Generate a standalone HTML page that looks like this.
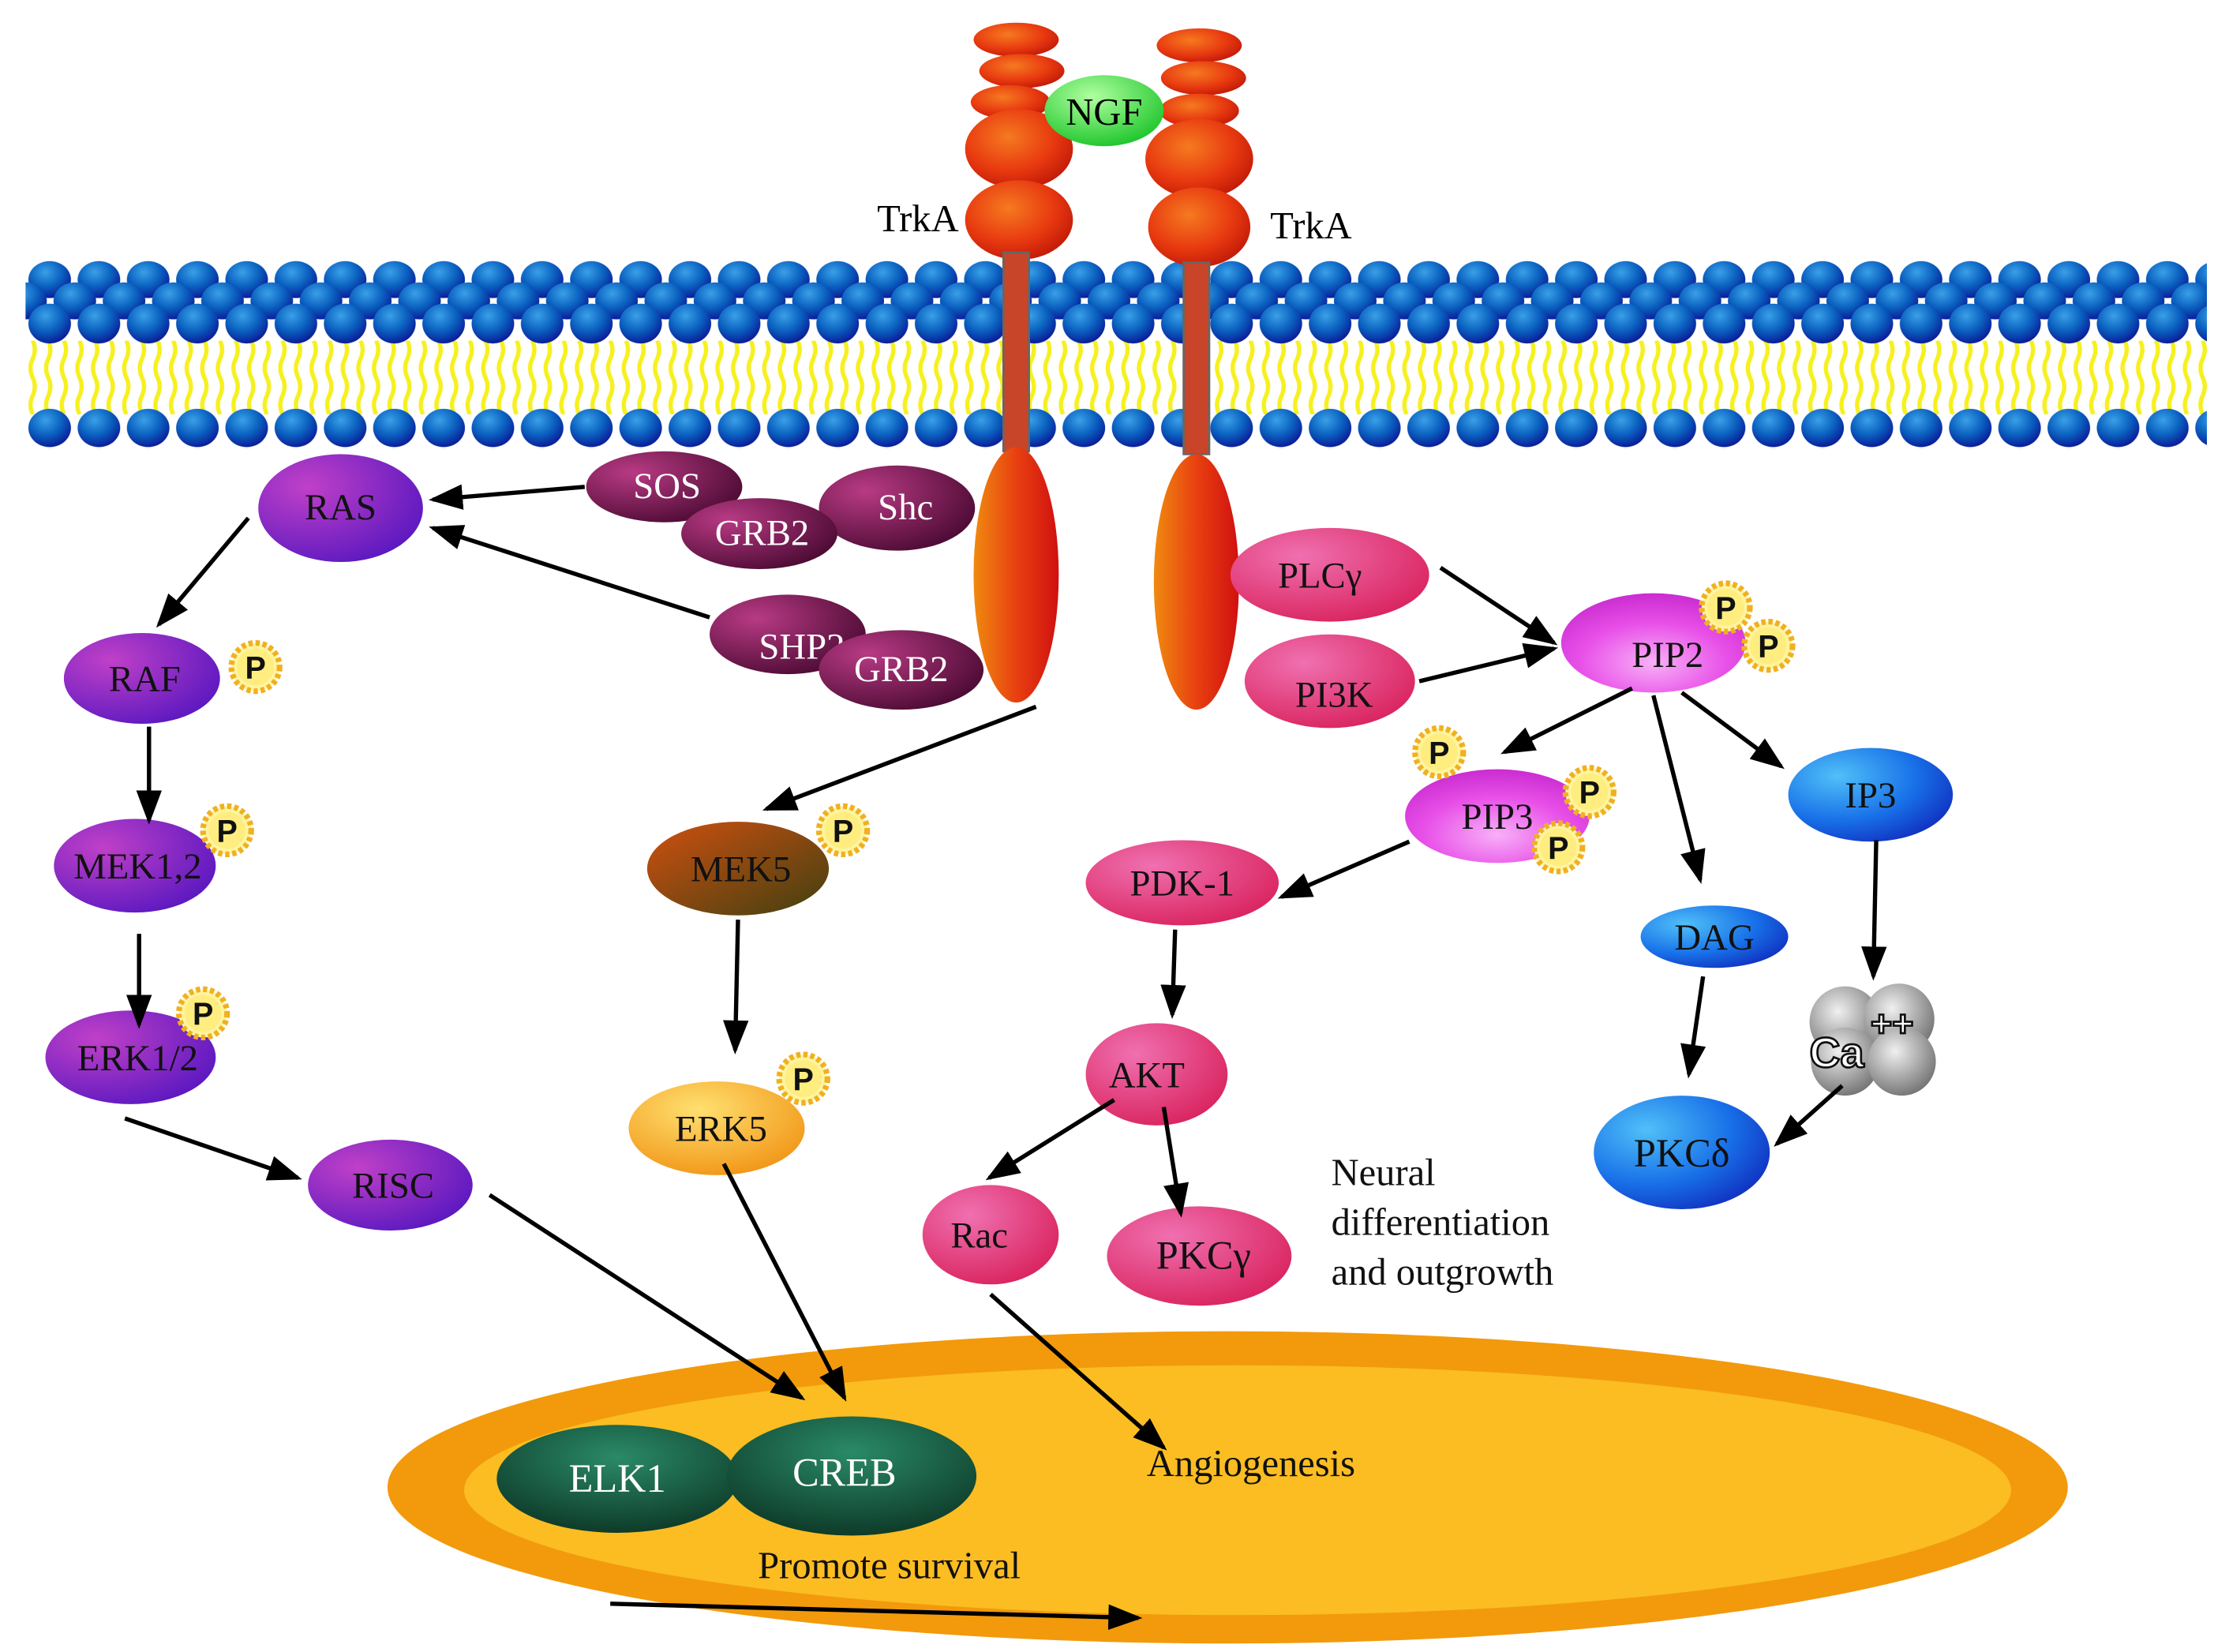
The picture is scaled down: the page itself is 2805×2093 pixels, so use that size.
<!DOCTYPE html>
<html><head><meta charset="utf-8"><style>html,body{margin:0;padding:0;background:#fff;}svg{display:block}</style></head>
<body>
<svg width="2805" height="2093" viewBox="0 0 1560 1164" preserveAspectRatio="none" xmlns="http://www.w3.org/2000/svg" font-family="'Liberation Serif', serif">
<defs>
<radialGradient id="sph" cx="0.4" cy="0.3" r="0.7"><stop offset="0" stop-color="#3aa0e8"/><stop offset="0.55" stop-color="#0b62c0"/><stop offset="1" stop-color="#0a1f9a"/></radialGradient>
<pattern id="topP" x="18" y="183" width="34.7" height="60" patternUnits="userSpaceOnUse">
<ellipse cx="17" cy="14" rx="15" ry="13" fill="url(#sph)"/><ellipse cx="0" cy="29" rx="15" ry="13" fill="url(#sph)"/><ellipse cx="34.7" cy="29" rx="15" ry="13" fill="url(#sph)"/><ellipse cx="17" cy="45" rx="15" ry="14" fill="url(#sph)"/></pattern>
<pattern id="botP" x="18" y="288" width="34.7" height="28" patternUnits="userSpaceOnUse"><ellipse cx="17" cy="13.5" rx="15" ry="13.5" fill="url(#sph)"/></pattern>
<pattern id="yel" x="18" y="240" width="11" height="52" patternUnits="userSpaceOnUse"><path d="M5 0 q3 6 0 13 q-3 6 0 13 q3 6 0 13 q-3 6 0 13" stroke="#f6f020" stroke-width="3" fill="none"/></pattern>
<radialGradient id="red" cx="0.4" cy="0.35" r="0.7"><stop offset="0" stop-color="#f57a20"/><stop offset="0.6" stop-color="#e83a10"/><stop offset="1" stop-color="#c01808"/></radialGradient>
<linearGradient id="stalk" x1="0" y1="0" x2="1" y2="0"><stop offset="0" stop-color="#f08a10"/><stop offset="0.5" stop-color="#e84010"/><stop offset="1" stop-color="#d01010"/></linearGradient>
<radialGradient id="purp" cx="0.3" cy="0.3" r="0.8"><stop offset="0" stop-color="#c040c8"/><stop offset="1" stop-color="#5a18c0"/></radialGradient>
<radialGradient id="maroon" cx="0.3" cy="0.3" r="0.8"><stop offset="0" stop-color="#b83a84"/><stop offset="1" stop-color="#4a0a32"/></radialGradient>
<linearGradient id="mek5" x1="0" y1="0" x2="1" y2="1"><stop offset="0" stop-color="#d05010"/><stop offset="1" stop-color="#404010"/></linearGradient>
<radialGradient id="erk5" cx="0.4" cy="0.3" r="0.8"><stop offset="0" stop-color="#ffe070"/><stop offset="1" stop-color="#f09010"/></radialGradient>
<radialGradient id="pink" cx="0.35" cy="0.3" r="0.8"><stop offset="0" stop-color="#f070b0"/><stop offset="1" stop-color="#d8205a"/></radialGradient>
<radialGradient id="mag" cx="0.5" cy="0.7" r="0.8"><stop offset="0" stop-color="#f8b0f8"/><stop offset="0.5" stop-color="#e850e8"/><stop offset="1" stop-color="#c020c8"/></radialGradient>
<radialGradient id="blue" cx="0.3" cy="0.3" r="0.8"><stop offset="0" stop-color="#50c0f8"/><stop offset="0.6" stop-color="#1870e8"/><stop offset="1" stop-color="#1030c0"/></radialGradient>
<radialGradient id="green" cx="0.5" cy="0.3" r="0.8"><stop offset="0" stop-color="#2a8a68"/><stop offset="1" stop-color="#0a3020"/></radialGradient>
<radialGradient id="ngf" cx="0.4" cy="0.3" r="0.8"><stop offset="0" stop-color="#b0ffa0"/><stop offset="1" stop-color="#10c020"/></radialGradient>
<radialGradient id="grey" cx="0.4" cy="0.35" r="0.7"><stop offset="0" stop-color="#f0f0f0"/><stop offset="1" stop-color="#707070"/></radialGradient>
<marker id="ar" markerWidth="8" markerHeight="8" refX="7" refY="4" orient="auto" markerUnits="strokeWidth"><path d="M0,1 L8,4 L0,7 Z" fill="#000"/></marker>
<g id="P"><circle r="17" fill="#fff4a0" stroke="#f0b020" stroke-width="4" stroke-dasharray="3 2"/><circle r="13" fill="#ffed80"/><text y="8" text-anchor="middle" font-family="'Liberation Sans',sans-serif" font-weight="bold" font-size="22" fill="#111">P</text></g>
</defs>

<rect x="18" y="240" width="1537" height="52" fill="url(#yel)"/>
<rect x="18" y="183" width="1537" height="60" fill="url(#topP)"/>
<rect x="18" y="288" width="1537" height="28" fill="url(#botP)"/>

<ellipse cx="865" cy="1048" rx="592" ry="110" fill="#f29a0c"/>
<ellipse cx="872" cy="1050" rx="545" ry="88" fill="#fbbd22"/>

<g fill="url(#red)">
<ellipse cx="716" cy="28" rx="30" ry="12"/><ellipse cx="720" cy="50" rx="30" ry="12"/><ellipse cx="712" cy="72" rx="28" ry="12"/>
<ellipse cx="718" cy="105" rx="38" ry="28"/><ellipse cx="718" cy="155" rx="38" ry="28"/>
<ellipse cx="845" cy="32" rx="30" ry="12"/><ellipse cx="848" cy="55" rx="30" ry="12"/><ellipse cx="845" cy="78" rx="28" ry="12"/>
<ellipse cx="845" cy="112" rx="38" ry="28"/><ellipse cx="845" cy="160" rx="36" ry="28"/>
</g>
<rect x="707" y="178" width="18" height="140" fill="#c8452a" stroke="#666" stroke-width="1.5"/>
<rect x="834" y="185" width="18" height="135" fill="#c8452a" stroke="#666" stroke-width="1.5"/>
<ellipse cx="716" cy="405" rx="30" ry="90" fill="url(#stalk)"/>
<ellipse cx="843" cy="410" rx="30" ry="90" fill="url(#stalk)"/>
<ellipse cx="778" cy="78" rx="42" ry="25" fill="url(#ngf)"/>
<text x="778" y="88" text-anchor="middle" font-size="27">NGF</text>
<text x="618" y="163" font-size="27">TrkA</text>
<text x="895" y="168" font-size="27">TrkA</text>

<g font-size="26" text-anchor="middle" fill="#111">
<ellipse cx="240" cy="358" rx="58" ry="38" fill="url(#purp)"/><text x="240" y="366">RAS</text>
<ellipse cx="468" cy="343" rx="55" ry="25" fill="url(#maroon)"/><text x="470" y="351" fill="#fff">SOS</text>
<ellipse cx="632" cy="358" rx="55" ry="30" fill="url(#maroon)"/><text x="638" y="366" fill="#fff">Shc</text>
<ellipse cx="535" cy="376" rx="55" ry="25" fill="url(#maroon)"/><text x="537" y="384" fill="#fff">GRB2</text>
<ellipse cx="555" cy="447" rx="55" ry="28" fill="url(#maroon)"/><text x="565" y="464" fill="#fff">SHP2</text>
<ellipse cx="635" cy="472" rx="58" ry="28" fill="url(#maroon)"/><text x="635" y="480" fill="#fff">GRB2</text>
<ellipse cx="100" cy="478" rx="55" ry="32" fill="url(#purp)"/><text x="102" y="487">RAF</text>
<ellipse cx="95" cy="610" rx="57" ry="33" fill="url(#purp)"/><text x="97" y="619">MEK1,2</text>
<ellipse cx="92" cy="745" rx="60" ry="33" fill="url(#purp)"/><text x="97" y="754">ERK1/2</text>
<ellipse cx="275" cy="835" rx="58" ry="32" fill="url(#purp)"/><text x="277" y="844">RISC</text>
<ellipse cx="520" cy="612" rx="64" ry="33" fill="url(#mek5)"/><text x="522" y="621">MEK5</text>
<ellipse cx="505" cy="795" rx="62" ry="33" fill="url(#erk5)"/><text x="508" y="804">ERK5</text>
<ellipse cx="937" cy="405" rx="70" ry="33" fill="url(#pink)"/><text x="930" y="414">PLCγ</text>
<ellipse cx="937" cy="480" rx="60" ry="33" fill="url(#pink)"/><text x="940" y="498">PI3K</text>
<ellipse cx="1165" cy="453" rx="65" ry="35" fill="url(#mag)"/><text x="1175" y="470">PIP2</text>
<ellipse cx="1055" cy="575" rx="65" ry="33" fill="url(#mag)"/><text x="1055" y="584">PIP3</text>
<ellipse cx="1318" cy="560" rx="58" ry="33" fill="url(#blue)"/><text x="1318" y="569">IP3</text>
<ellipse cx="833" cy="622" rx="68" ry="30" fill="url(#pink)"/><text x="833" y="631">PDK-1</text>
<ellipse cx="1208" cy="660" rx="52" ry="22" fill="url(#blue)"/><text x="1208" y="669">DAG</text>
<ellipse cx="815" cy="757" rx="50" ry="36" fill="url(#pink)"/><text x="808" y="766">AKT</text>
<ellipse cx="1185" cy="812" rx="62" ry="40" fill="url(#blue)"/><text x="1185" y="822" font-size="28">PKCδ</text>
<ellipse cx="698" cy="870" rx="48" ry="35" fill="url(#pink)"/><text x="690" y="879">Rac</text>
<ellipse cx="845" cy="885" rx="65" ry="35" fill="url(#pink)"/><text x="848" y="894" font-size="28">PKCγ</text>
<ellipse cx="435" cy="1042" rx="85" ry="38" fill="url(#green)"/><text x="435" y="1051" fill="#fff" font-size="28">ELK1</text>
<ellipse cx="600" cy="1040" rx="88" ry="42" fill="url(#green)"/><text x="595" y="1047" fill="#fff" font-size="28">CREB</text>
</g>
<g fill="url(#grey)"><circle cx="1300" cy="720" r="25"/><circle cx="1338" cy="718" r="25"/><circle cx="1300" cy="748" r="24"/><circle cx="1340" cy="748" r="24"/></g>
<text x="1275" y="752" font-family="'Liberation Sans',sans-serif" font-weight="bold" font-size="30" fill="#fff" stroke="#111" stroke-width="1.5">Ca</text>
<text x="1318" y="730" font-family="'Liberation Sans',sans-serif" font-weight="bold" font-size="26" fill="#fff" stroke="#111" stroke-width="1.5">++</text>

<use href="#P" x="180" y="470"/><use href="#P" x="160" y="585"/><use href="#P" x="143" y="714"/>
<use href="#P" x="594" y="585"/><use href="#P" x="566" y="760"/>
<use href="#P" x="1216" y="428"/><use href="#P" x="1246" y="455"/>
<use href="#P" x="1014" y="530"/><use href="#P" x="1120" y="558"/><use href="#P" x="1098" y="597"/>

<g font-size="27" fill="#111">
<text x="938" y="835">Neural</text><text x="938" y="870">differentiation</text><text x="938" y="905">and outgrowth</text>
<text x="808" y="1040">Angiogenesis</text>
<text x="534" y="1112">Promote survival</text>
</g>

<g stroke="#000" stroke-width="3" fill="none" marker-end="url(#ar)">
<line x1="412" y1="343" x2="305" y2="352"/>
<line x1="500" y1="435" x2="305" y2="372"/>
<line x1="175" y1="365" x2="112" y2="440"/>
<line x1="105" y1="512" x2="105" y2="578"/>
<line x1="98" y1="658" x2="98" y2="722"/>
<line x1="88" y1="788" x2="210" y2="830"/>
<line x1="345" y1="842" x2="565" y2="985"/>
<line x1="510" y1="820" x2="595" y2="985"/>
<line x1="730" y1="498" x2="540" y2="570"/>
<line x1="520" y1="648" x2="518" y2="740"/>
<line x1="1015" y1="400" x2="1095" y2="453"/>
<line x1="1000" y1="480" x2="1095" y2="457"/>
<line x1="1150" y1="485" x2="1060" y2="530"/>
<line x1="1165" y1="490" x2="1198" y2="620"/>
<line x1="1185" y1="488" x2="1255" y2="540"/>
<line x1="1322" y1="592" x2="1320" y2="688"/>
<line x1="1200" y1="688" x2="1190" y2="757"/>
<line x1="1298" y1="765" x2="1252" y2="806"/>
<line x1="993" y1="593" x2="903" y2="632"/>
<line x1="828" y1="655" x2="826" y2="715"/>
<line x1="785" y1="775" x2="697" y2="830"/>
<line x1="820" y1="780" x2="832" y2="855"/>
<line x1="698" y1="912" x2="820" y2="1020"/>
<line x1="430" y1="1130" x2="802" y2="1140"/>
</g>
</svg>
</body></html>
